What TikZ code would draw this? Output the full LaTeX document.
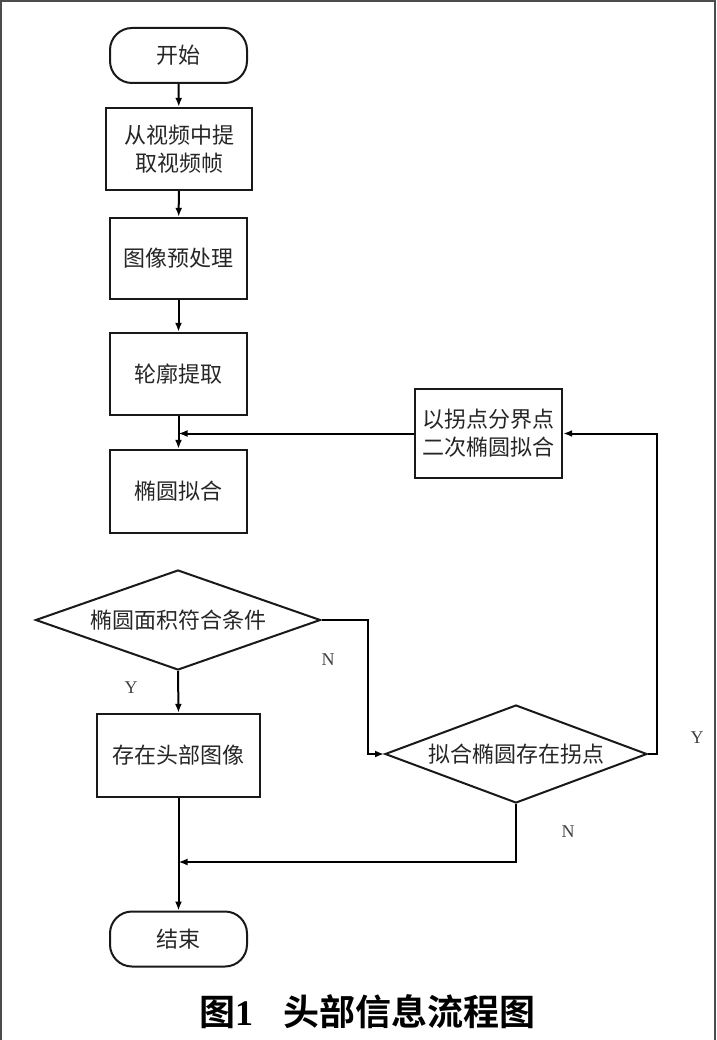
\documentclass[tikz,border=0pt]{standalone}
\usepackage{fontspec}
\setmainfont{Liberation Serif}
\newfontfamily\cjk{Noto Sans CJK SC}[BoldFont={Noto Sans CJK SC Bold}]
\usetikzlibrary{arrows.meta,shapes.geometric}
\begin{document}
\begin{tikzpicture}[x=1pt,y=-1pt,
  base/.style={draw=black!90, line width=2.4pt, inner sep=0pt, align=center,
    font=\cjk\fontsize{22pt}{28pt}\selectfont, text=black!85},
  proc/.style={base, rectangle},
  term/.style={base, line width=2pt, rounded corners=22pt, minimum width=137pt, minimum height=55pt},
  dec/.style={base, diamond, line width=2pt},
  arr/.style={draw=black, line width=2pt, -{Latex[length=9pt,width=7pt]}},
  lab/.style={font=\rmfamily\fontsize{18pt}{18pt}\selectfont, text=black!75, inner sep=0pt}
]
\useasboundingbox (0,0) rectangle (716,1040);
\fill[white] (0,0) rectangle (716,1040);
% frame
\draw[black!70, line width=2.5pt] (0,1) -- (716,1);
\draw[black!70, line width=2pt] (1,0) -- (1,1040);
\draw[black!70, line width=2pt] (715,0) -- (715,1040);

% nodes
\node[term] (start) at (178.5,55.5) {开始};
\node[proc, minimum width=146pt, minimum height=82pt] (b1) at (179,149) {从视频中提\\取视频帧};
\node[proc, minimum width=137pt, minimum height=81pt] (b2) at (178.5,258.5) {图像预处理};
\node[proc, minimum width=137pt, minimum height=82pt] (b3) at (178.5,374) {轮廓提取};
\node[proc, minimum width=137pt, minimum height=83pt] (b4) at (178.5,491.5) {椭圆拟合};
\node[dec, shape aspect=2.85, minimum width=285pt, minimum height=100pt] (d1) at (178,620) {椭圆面积符合条件};
\node[proc, minimum width=163pt, minimum height=83pt] (b5) at (178.5,755.5) {存在头部图像};
\node[dec, shape aspect=2.67, minimum width=262pt, minimum height=98pt] (d2) at (516,754) {拟合椭圆存在拐点};
\node[proc, minimum width=147pt, minimum height=89pt] (b6) at (488.5,433.5) {以拐点分界点\\二次椭圆拟合};
\node[term] (end) at (178.5,939) {结束};

% labels
\node[lab] (n1) at (328,660) {N};
\node[lab] (y1) at (131,688) {Y};
\node[lab] (y2) at (697,738) {Y};
\node[lab] (n2) at (568,832) {N};

% caption
\node[inner sep=0pt, font=\fontsize{36pt}{40pt}\selectfont\bfseries] (cap) at (367,1012)
  {{\cjk 图}1\hspace{30pt}{\cjk 头部信息流程图}};

% connectors
\coordinate (nr) at (368,620);
\coordinate (yr) at (657,754);
\coordinate (mg) at (178.5,862);
\path[arr] (start) -- (b1);
\path[arr] (b1) -- (b2);
\path[arr] (b2) -- (b3);
\path[arr] (b3) -- (b4);
\path[arr] (b6.west) -- (b6.west -| b4.north);
\path[arr] (d1.south) -- (b5.north);
\path[arr] (d1.east) -- (nr) |- (d2.west);
\path[arr] (d2.east) -- (yr) |- (b6.east);
\path[arr] (b5.south) -- (end.north);
\path[arr] (d2.south) |- (mg);
\end{tikzpicture}
\end{document}
